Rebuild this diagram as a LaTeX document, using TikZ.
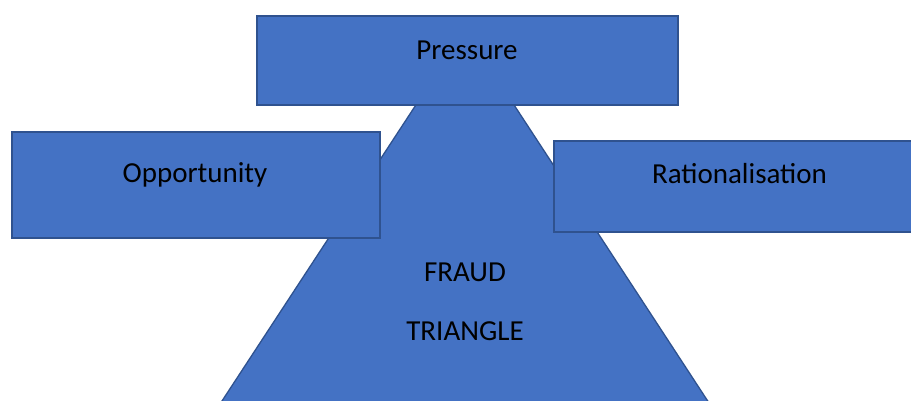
\documentclass[tikz,border=0pt]{standalone}
\usepackage{fontspec}
\setmainfont{Carlito}
\definecolor{boxfill}{HTML}{4472C4}
\definecolor{boxline}{HTML}{2F528F}
\tikzset{
  shapebox/.style={draw=boxline, fill=boxfill, line width=1.3pt},
  lbl/.style={anchor=base, inner sep=0pt, font=\fontsize{29}{31}\selectfont, text=black}
}
\begin{document}
\begin{tikzpicture}[x=1pt,y=-1pt]
\useasboundingbox (0,0) rectangle (911,401);
\clip (0,0) rectangle (911,401);
\fill[white] (0,0) rectangle (911,401);
% triangle
\coordinate (apex) at (465,30);
\coordinate (bl) at (217.4,408);
\coordinate (br) at (712.3,408);
\draw[shapebox, line join=miter] (apex) -- (bl) -- (br) -- cycle;
% boxes
\draw[shapebox] (12,132) rectangle (380,238);
\draw[shapebox] (554,141) rectangle (930,232);
\draw[shapebox] (257,16) rectangle (678,105);
% labels
\node[lbl] (pressure) at (467,60) {Pressure};
\node[lbl] (opportunity) at (195,183) {Opportunity};
\node[lbl] (rational) at (739.5,184) {Rationalisation};
\node[lbl] (fraud) at (465,281) {FRAUD};
\node[lbl] (triangle) at (465,340) {TRIANGLE};
\end{tikzpicture}
\end{document}
